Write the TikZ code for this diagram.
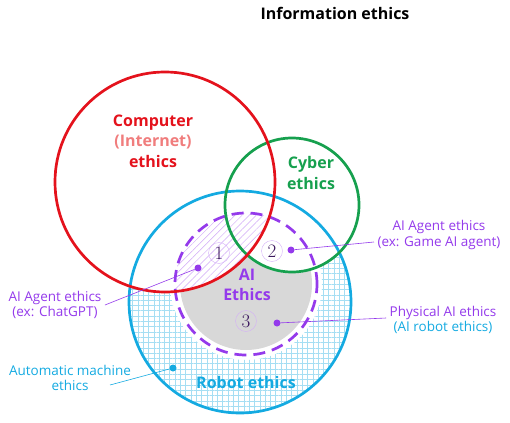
\documentclass[tikz,border=0pt]{standalone}
\usepackage{fontspec}
\setsansfont{Open Sans}
\usepackage{xcolor}
\usepackage{tikz}
\usetikzlibrary{patterns.meta}
\definecolor{redC}{RGB}{228,18,28}
\definecolor{greenC}{RGB}{22,160,78}
\definecolor{blueC}{RGB}{20,170,225}
\definecolor{purpleC}{RGB}{148,58,235}
\definecolor{pinkC}{RGB}{240,125,125}
\definecolor{gridC}{RGB}{165,222,243}
\definecolor{grayC}{RGB}{216,216,216}

\begin{document}
\begin{tikzpicture}[x=1pt,y=-1pt,font=\sffamily,
  ring/.style={line width=2.7pt},
  dotmark/.style={circle,fill=#1,inner sep=0pt,minimum size=7pt},
  numcirc/.style={circle,draw=purpleC!40,text=purpleC!40!black,inner sep=0pt,
    minimum size=21pt,font=\fontsize{19}{19}\selectfont\rmfamily},
  biglabel/.style={align=center,font=\fontsize{16}{20.5}\selectfont\sffamily\bfseries},
  sidelabel/.style={align=center,font=\fontsize{13.5}{15.5}\selectfont\sffamily},
  pointer/.style={draw=#1,line width=0.6pt}]
  \useasboundingbox (0,0) rectangle (510,422);

  % grid inside robot ethics circle
  \begin{scope}[even odd rule]
    \clip (240,302) circle (111pt);
    \clip (0,0) rectangle (510,422) (165,182) circle (110pt);
    \clip (0,0) rectangle (510,422) (292,205) circle (67pt);
    \clip (0,0) rectangle (510,422) (246,284) circle (76pt);
    \fill[pattern={Hatch[angle=0,distance=5.3pt,line width=0.4pt]},pattern color=gridC]
      (0,0) rectangle (510,422);
  \end{scope}
  % grey part of AI ethics
  \begin{scope}[even odd rule]
    \clip (0,0) rectangle (510,422) (165,182) circle (111pt);
    \clip (0,0) rectangle (510,422) (292,205) circle (68pt);
    \fill[grayC] (246,284) circle (66pt);
  \end{scope}
  % hatched part
  \begin{scope}
    \clip (165,182) circle (110pt);
    \fill[pattern={Lines[angle=45,distance=5pt,line width=0.5pt]},pattern color=purpleC!45]
      (246,284) circle (71pt);
  \end{scope}

  \draw[ring,blueC] (240,302) circle (111pt);
  \draw[ring,purpleC,dash pattern=on 12pt off 7pt] (246,284) circle (71pt);
  \draw[ring,greenC] (292,205) circle (67pt);
  \draw[ring,redC] (165,182) circle (110pt);

  \node[font=\fontsize{16}{18}\selectfont\sffamily\bfseries] (title) at (335,13) {Information ethics};
  \node[biglabel,text=redC] (computer) at (153,141)
    {Computer\\\textcolor{pinkC}{(Internet)}\\ethics};
  \node[biglabel,text=greenC] (cyber) at (311,173) {Cyber\\ethics};
  \node[biglabel,text=purpleC] (aiethics) at (247,285) {AI\\Ethics};
  \node[biglabel,text=blueC] (robot) at (246,382) {Robot ethics};

  \node[numcirc] (one) at (219,253) {1};
  \node[numcirc] (two) at (272,251) {2};
  \node[numcirc] (three) at (246,321) {3};

  \node[dotmark=purpleC] (dotone) at (198,268) {};
  \node[dotmark=purpleC] (dottwo) at (291,250) {};
  \node[dotmark=purpleC] (dotthree) at (277,323) {};
  \node[dotmark=blueC] (dotauto) at (173,368) {};

  \node[sidelabel,text=purpleC] (agentgpt) at (55,305) {AI Agent ethics\\(ex: ChatGPT)};
  \node[sidelabel,text=purpleC] (agentgame) at (439,235) {AI Agent ethics\\(ex: Game AI agent)};
  \node[sidelabel,text=purpleC] (physical) at (443,320)
    {Physical AI ethics\\\textcolor{blueC}{(AI robot ethics)}};
  \node[sidelabel,text=blueC] (automatic) at (70,378) {Automatic machine\\ethics};
  \coordinate (autoend) at (110,385);

  \draw[pointer=purpleC] (dotone) -- (agentgpt.east);
  \draw[pointer=purpleC] (dottwo) -- ([yshift=-7pt]agentgame.west);
  \draw[pointer=purpleC] (dotthree) -- ([yshift=2pt]physical.west);
  \draw[pointer=blueC] (dotauto) -- (autoend);
\end{tikzpicture}
\end{document}
